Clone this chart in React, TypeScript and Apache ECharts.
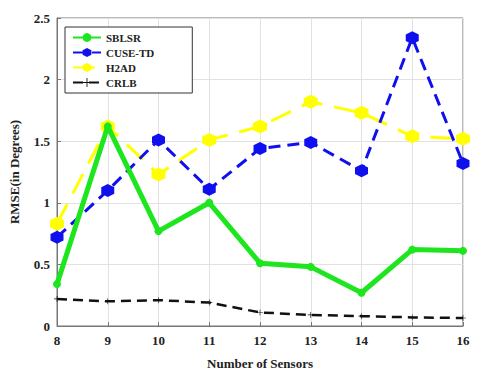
import React, { useEffect, useRef } from "react";
import * as echarts from "echarts";

const sensors = [8, 9, 10, 11, 12, 13, 14, 15, 16];
const sblsr = [0.34, 1.62, 0.77, 1.0, 0.51, 0.48, 0.27, 0.62, 0.61];
const cuseTd = [0.72, 1.1, 1.51, 1.11, 1.44, 1.49, 1.26, 2.34, 1.32];
const h2ad = [0.83, 1.62, 1.23, 1.51, 1.62, 1.82, 1.73, 1.54, 1.52];
const crlb = [0.22, 0.2, 0.21, 0.19, 0.11, 0.09, 0.08, 0.07, 0.065];
const yTicks = [0, 0.5, 1, 1.5, 2, 2.5];

const hex = "path://M0,-10 L8.66,-5 L8.66,5 L0,10 L-8.66,5 L-8.66,-5 Z";
const plus = "path://M-1,-10 L1,-10 L1,-1 L10,-1 L10,1 L1,1 L1,10 L-1,10 L-1,1 L-10,1 L-10,-1 L-1,-1 Z";

const font = "'Liberation Serif', 'Times New Roman', serif";

const pairs = (ys: number[]) => sensors.map((x, i) => [x, ys[i]]);

export default function App() {
  const ref = useRef<HTMLDivElement>(null);
  useEffect(() => {
    const chart = echarts.init(ref.current!, null, { renderer: "svg" });
    chart.setOption({
      animation: false,
      backgroundColor: "#fff",
      grid: { left: 52, right: 17, top: 18, bottom: 54, show: true, borderColor: "#777", borderWidth: 1 },
      legend: {
        orient: "vertical",
        left: 65,
        top: 27,
        backgroundColor: "#fff",
        borderColor: "#333",
        borderWidth: 1,
        borderRadius: 0,
        padding: [5, 38, 5, 7],
        itemWidth: 28,
        itemHeight: 11,
        itemGap: 4,
        textStyle: { fontFamily: font, fontWeight: "bold", fontSize: 11, color: "#222" },
        data: ["SBLSR", "CUSE-TD", "H2AD", "CRLB"],
      },
      xAxis: {
        type: "value",
        min: 8,
        max: 16,
        interval: 1,
        name: "Number of Sensors",
        nameLocation: "middle",
        nameGap: 31,
        nameTextStyle: { fontFamily: font, fontWeight: "bold", fontSize: 13, color: "#222" },
        axisLine: { show: true, lineStyle: { color: "#777" } },
        axisTick: { inside: true, length: 4, lineStyle: { color: "#777" } },
        axisLabel: { fontFamily: font, fontWeight: "bold", fontSize: 13, color: "#222", margin: 8 },
        splitLine: { show: true, lineStyle: { color: "#e2e2e2" } },
      },
      yAxis: {
        type: "value",
        min: yTicks[0],
        max: yTicks[yTicks.length - 1],
        interval: 0.5,
        name: "RMSE(in Degrees)",
        nameLocation: "middle",
        nameGap: 36,
        nameRotate: 90,
        nameTextStyle: { fontFamily: font, fontWeight: "bold", fontSize: 13, color: "#222" },
        axisLine: { show: true, lineStyle: { color: "#777" } },
        axisTick: { inside: true, length: 4, lineStyle: { color: "#777" } },
        axisLabel: { fontFamily: font, fontWeight: "bold", fontSize: 13, color: "#222", margin: 7 },
        splitLine: { show: true, lineStyle: { color: "#e2e2e2" } },
      },
      series: [
        {
          name: "SBLSR",
          type: "line",
          data: pairs(sblsr),
          color: "#1ee61e",
          lineStyle: { width: 5, color: "#1ee61e" },
          symbol: "circle",
          symbolSize: 8,
          itemStyle: { color: "#1ee61e" },
          z: 4,
        },
        {
          name: "CUSE-TD",
          type: "line",
          data: pairs(cuseTd),
          color: "#1010ee",
          lineStyle: { width: 3, type: [12, 7], color: "#1010ee" },
          symbol: hex,
          symbolSize: 13,
          itemStyle: { color: "#1010ee" },
          z: 3,
        },
        {
          name: "H2AD",
          type: "line",
          data: pairs(h2ad),
          color: "#ffff00",
          lineStyle: { width: 3, type: [22, 12], color: "#ffff00" },
          symbol: hex,
          symbolSize: 14,
          itemStyle: { color: "#ffff00" },
          z: 2,
        },
        {
          name: "CRLB",
          type: "line",
          data: pairs(crlb),
          color: "#111",
          lineStyle: { width: 2.5, type: [10, 6], color: "#111" },
          symbol: plus,
          symbolSize: 6,
          itemStyle: { color: "#111" },
          z: 5,
        },
      ],
    });
    return () => chart.dispose();
  }, []);
  return <div ref={ref} style={{ width: 480, height: 380, position: "absolute", left: 0, top: 0 }} />;
}
